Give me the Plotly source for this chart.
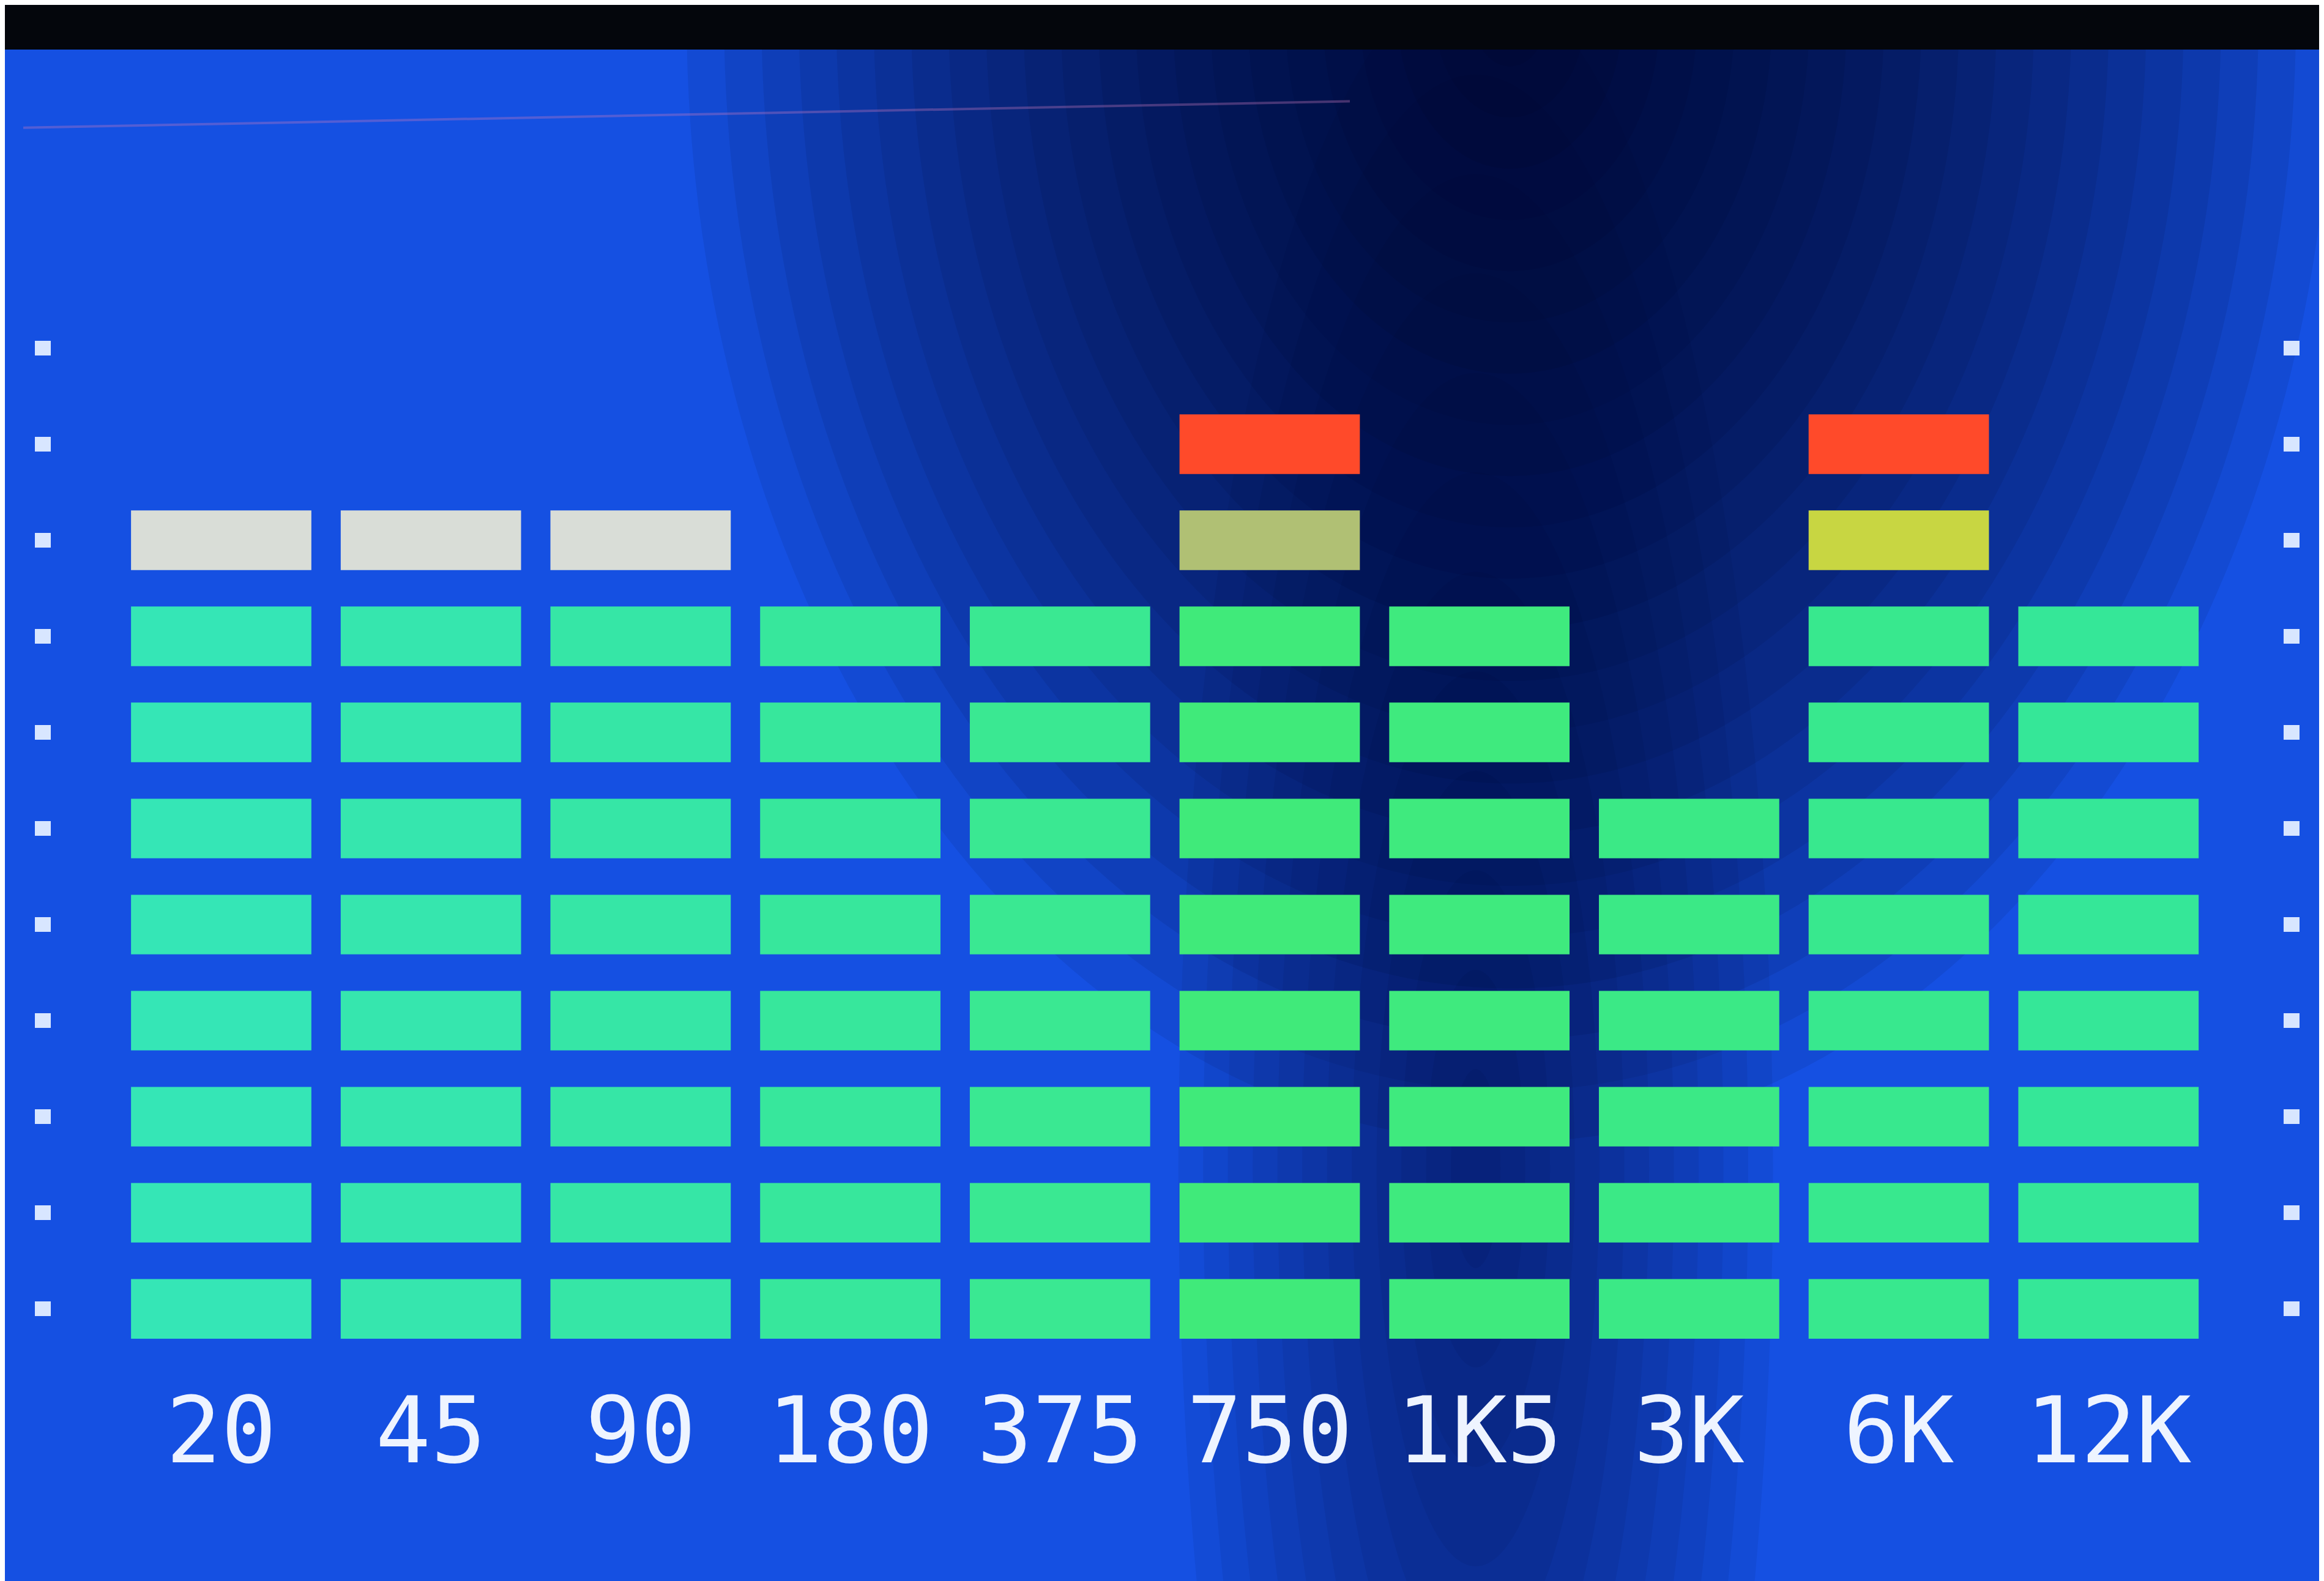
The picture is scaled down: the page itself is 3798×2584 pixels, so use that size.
import plotly.graph_objects as go

# spectrum analyser snapshot: 10 bands, level in lit segments
bands = ["20", "45", "90", "180", "375", "750", "1K5", "3K", "6K", "12K"]
levels = [8, 8, 8, 8, 8, 10, 8, 6, 10, 8]
peak_hold = [9, 9, 9, None, None, None, None, None, None, None]
scale_rows = list(range(1, 12))

SEG_H = 0.62
GREEN_ROWS = 8
band_greens = ["#35e6b6", "#36e6ae", "#36e6a6", "#37e79c", "#3ae892",
               "#40ea7a", "#3fea7e", "#3be986", "#38e88e", "#35e798"]
YELLOW = ["#b9c66e"] * 5 + ["#b0c074", "#c0cf55", "#c0cf55", "#c8d642", "#c8d642"]
RED = "#ff4a2a"
PEAK = "#d9ddd7"

fig = go.Figure()

for r in range(1, max(levels) + 1):
    if r <= GREEN_ROWS:
        cols = band_greens
    elif r == GREEN_ROWS + 1:
        cols = YELLOW
    else:
        cols = [RED] * len(bands)
    fig.add_trace(go.Bar(
        x=bands,
        y=[SEG_H if lv >= r else None for lv in levels],
        base=r - 1,
        width=0.86,
        marker=dict(color=cols, line=dict(width=0)),
        showlegend=False,
        hoverinfo='skip'
    ))

# peak hold markers
fig.add_trace(go.Bar(
    x=bands,
    y=[SEG_H if p else None for p in peak_hold],
    base=[p - 1 if p else None for p in peak_hold],
    width=0.86,
    marker=dict(color=PEAK, line=dict(width=0)),
    showlegend=False,
    hoverinfo='skip'
))

# scale dots on the right edge need something on y2
fig.add_trace(go.Scatter(x=[bands[0]], y=[0], yaxis='y2', mode='markers',
                         marker=dict(opacity=0), showlegend=False, hoverinfo='skip'))

# vignette / screen shading: stacked soft ellipses
shapes = []
n = 22
for i in range(n):
    k = 1 - i / n
    shapes.append(dict(type='circle', xref='paper', yref='paper', layer='below',
                       x0=0.65 - 0.36 * k, x1=0.65 + 0.36 * k,
                       y0=1.02 - 0.85 * k, y1=1.02 + 0.85 * k,
                       fillcolor='rgba(2,6,30,0.075)', line=dict(width=0)))
for i in range(12):
    k = 1 - i / 12
    shapes.append(dict(type='circle', xref='paper', yref='paper', layer='below',
                       x0=0.635 - 0.13 * k, x1=0.635 + 0.13 * k,
                       y0=0.15 - 0.9 * k, y1=0.15 + 0.9 * k,
                       fillcolor='rgba(2,6,30,0.06)', line=dict(width=0)))
shapes.append(dict(type='rect', xref='paper', yref='paper', layer='below',
                   x0=-0.1, x1=1.1, y0=0.994, y1=1.1,
                   fillcolor='#04060c', line=dict(width=0)))
shapes.append(dict(type='line', xref='paper', yref='paper', layer='below',
                   x0=0.0, x1=0.58, y0=0.935, y1=0.955,
                   line=dict(color='rgba(200,120,190,0.35)', width=4)))

dot_vals = [r - 1 + SEG_H / 2 for r in scale_rows]

fig.update_layout(
    width=3798, height=2584,
    paper_bgcolor='#1550e2',
    plot_bgcolor='rgba(0,0,0,0)',
    barmode='overlay',
    margin=dict(l=30, r=30, t=60, b=357),
    shapes=shapes,
    xaxis=dict(
        domain=[0.0407, 0.9575],
        type='category',
        range=[-0.5, 9.5],
        showgrid=False, zeroline=False, showline=False,
        ticks='',
        tickfont=dict(family='DejaVu Sans Mono', size=150, color='#eef4ff'),
        ticklabelstandoff=4
    ),
    yaxis=dict(
        range=[-0.3, 13.5],
        showgrid=False, zeroline=False, showline=False,
        showticklabels=False,
        anchor='free', position=0.012,
        ticks='outside', ticklen=26, tickwidth=24, tickcolor='#d8e6ff',
        tickvals=dot_vals
    ),
    yaxis2=dict(
        range=[-0.3, 13.5],
        overlaying='y', side='right',
        showgrid=False, zeroline=False, showline=False,
        showticklabels=False,
        anchor='free', position=0.988,
        ticks='outside', ticklen=26, tickwidth=24, tickcolor='#d8e6ff',
        tickvals=dot_vals
    ),
)

fig.write_html("out.html")
